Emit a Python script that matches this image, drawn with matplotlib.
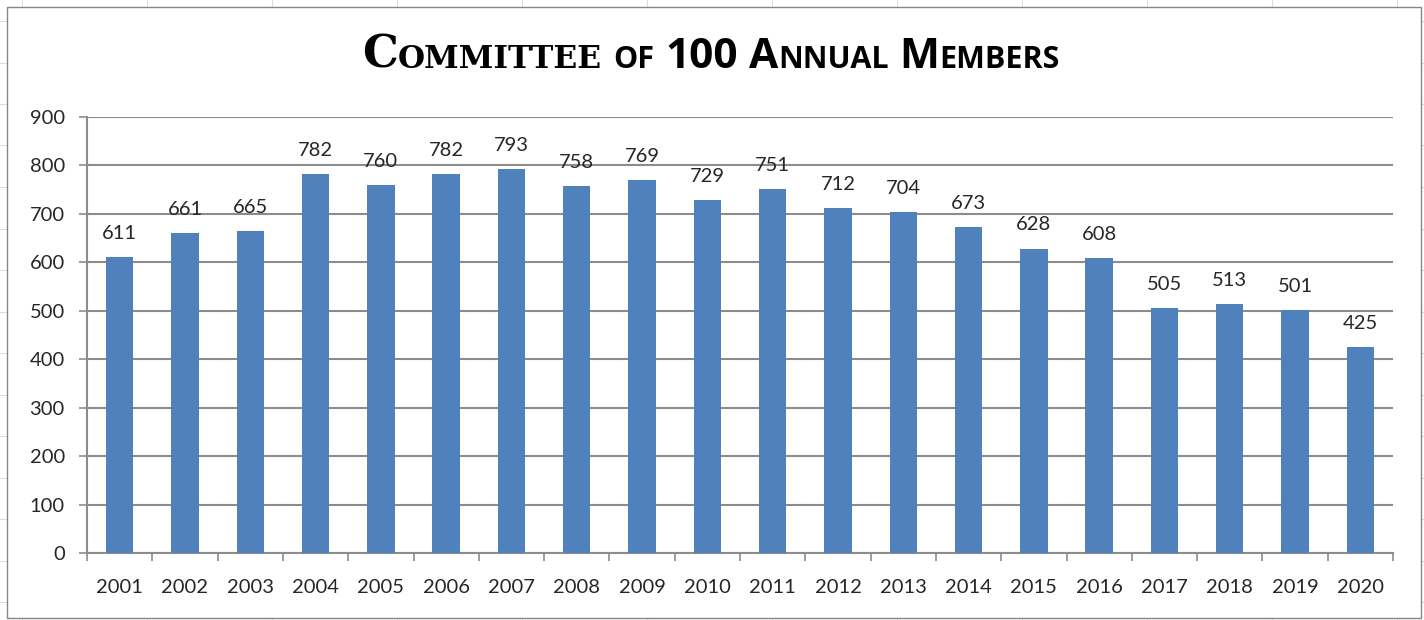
import numpy as np
import matplotlib
matplotlib.use('Agg')
from matplotlib import pyplot as plt
from matplotlib.patches import Rectangle
from matplotlib.lines import Line2D

years = [str(y) for y in range(2001, 2021)]
members = [611, 661, 665, 782, 760, 782, 793, 758, 769, 729,
           751, 712, 704, 673, 628, 608, 505, 513, 501, 425]
y_ticks = list(range(0, 1000, 100))

bar_color = '#4f81bd'
grid_color = '#8c8c8c'
label_font = 'Lato'

W, H = 1424, 620
fig = plt.figure(figsize=(W/100, H/100), dpi=100)

# faint spreadsheet grid outside the chart
for xg in np.arange(22, W, 125):
    fig.add_artist(Line2D([xg/W, xg/W], [0, 1], color='#dcdcdc', lw=0.8, zorder=0))
for yg in np.arange(21, H, 41.5):
    fig.add_artist(Line2D([0, 1], [1-yg/H, 1-yg/H], color='#dcdcdc', lw=0.8, zorder=0))

# chart area
fig.add_artist(Rectangle((7/W, 2/H), (1421-7)/W, (618-7)/H, facecolor='white',
                         edgecolor='#868686', lw=1.0, zorder=1))

ax = fig.add_axes([87/W, 1-553/H, (1393-87)/W, (553-117)/H])
ax.set_zorder(2)
ax.patch.set_alpha(0)

x = np.arange(len(years))
bars = ax.bar(x, members, width=0.42, color=bar_color, zorder=3)
for xi, v in zip(x, members):
    ax.annotate(str(v), (xi, v), xytext=(0, 11), textcoords='offset points',
                ha='center', va='bottom', fontsize=14.5, family=label_font, color='#262626')

ax.set_xlim(-0.5, len(years)-0.5)
ax.set_ylim(0, 900)
ax.set_yticks(y_ticks)
ax.set_yticklabels([str(t) for t in y_ticks], fontsize=14.5, family=label_font, color='#262626')
ax.set_xticks(np.arange(-0.5, len(years), 1.0))
ax.set_xticklabels([])
ax.set_xticks(x, minor=True)
ax.set_xticklabels(years, minor=True, fontsize=14.5, family=label_font, color='#262626')
ax.tick_params(axis='x', which='major', length=6, width=1.2, color=grid_color, direction='out')
ax.tick_params(axis='x', which='minor', length=0, pad=19)
ax.tick_params(axis='y', length=6, width=1.2, color=grid_color, pad=10)
ax.yaxis.grid(True, color=grid_color, lw=1.5, zorder=1)
ax.set_axisbelow(True)
for s in ['top', 'right']:
    ax.spines[s].set_visible(False)
for s in ['left', 'bottom']:
    ax.spines[s].set_color(grid_color)
    ax.spines[s].set_linewidth(1.5)

# small-caps title built from word pieces, centred
serif = 'DejaVu Serif'
sans = 'Open Sans'
title_words = [
    [('C', serif, 32.5), ('OMMITTEE', serif, 22.5)],
    [('OF', sans, 22)],
    [('100', sans, 30.5)],
    [('A', sans, 30.5), ('NNUAL', sans, 22)],
    [('M', sans, 30.5), ('EMBERS', sans, 22)],
]
word_gap = 11
renderer = fig.canvas.get_renderer()
placed = []
xpos = 0
for parts in title_words:
    for s, fam, size in parts:
        t = fig.text(0, 1-68/H, s, family=fam, fontsize=size, fontweight='bold',
                     ha='left', va='baseline', color='black', zorder=5)
        placed.append((t, xpos))
        xpos += t.get_window_extent(renderer).width
    xpos += word_gap
total = xpos - word_gap
for t, xp in placed:
    t.set_x((711 - total/2 + xp)/W)

fig.savefig('out.png', dpi=100)
